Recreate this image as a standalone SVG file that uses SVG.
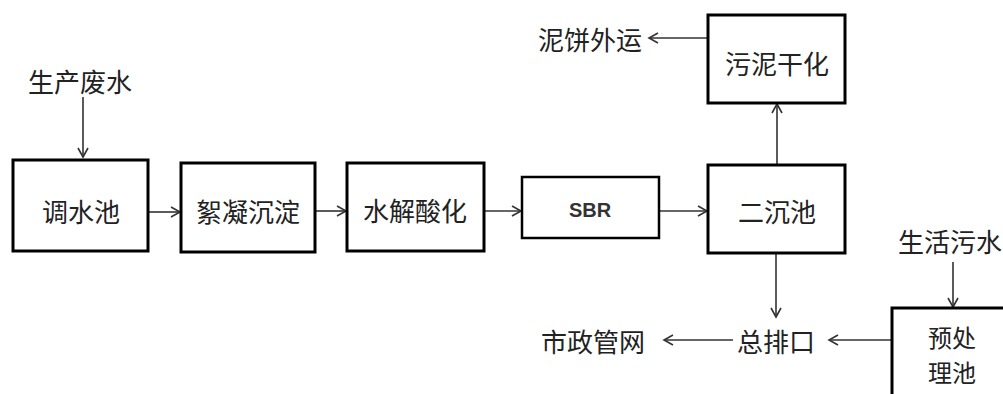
<svg xmlns="http://www.w3.org/2000/svg" width="1003" height="394" viewBox="0 0 1003 394">
<style>
.box{fill:#fff;stroke:#000;stroke-width:3}
.thin{stroke-width:2.5}
.t{font-family:"Noto Sans CJK SC","Noto Sans",sans-serif;font-size:26px;fill:#222;text-anchor:middle;dominant-baseline:central}
.p{font-size:24px}
.s{font-family:"Liberation Sans",Arial,sans-serif;font-size:20px;font-weight:bold;fill:#333;text-anchor:middle;dominant-baseline:central}
.c{stroke:#333;stroke-width:1.6;fill:none}
</style>
<defs>
<marker id="a" markerWidth="12" markerHeight="12" refX="10" refY="6" orient="auto" markerUnits="userSpaceOnUse">
<path d="M1,1 L10,6 L1,11" fill="none" stroke="#333" stroke-width="1.6"/>
</marker>
</defs>
<rect width="1003" height="394" fill="#fff"/>
<g id="connectors">
<line class="c" x1="83" y1="97" x2="83" y2="157" marker-end="url(#a)"/>
<line class="c" x1="148" y1="212" x2="180" y2="212" marker-end="url(#a)"/>
<line class="c" x1="315" y1="211" x2="346" y2="211" marker-end="url(#a)"/>
<line class="c" x1="484" y1="211" x2="521" y2="211" marker-end="url(#a)"/>
<line class="c" x1="659" y1="211" x2="707" y2="211" marker-end="url(#a)"/>
<line class="c" x1="777" y1="165" x2="777" y2="104" marker-end="url(#a)"/>
<line class="c" x1="708" y1="38" x2="649" y2="38" marker-end="url(#a)"/>
<line class="c" x1="776" y1="253" x2="776" y2="317" marker-end="url(#a)"/>
<line class="c" x1="733" y1="340" x2="664" y2="340" marker-end="url(#a)"/>
<line class="c" x1="892" y1="340" x2="829" y2="340" marker-end="url(#a)"/>
<line class="c" x1="953" y1="262" x2="953" y2="307" marker-end="url(#a)"/>
</g>
<g id="n-src"><text class="t" x="80" y="80">生产废水</text></g>
<g id="n1"><rect class="box" x="13" y="160" width="135" height="91"/><text class="t" x="81" y="210">调水池</text></g>
<g id="n2"><rect class="box" x="181" y="163" width="134" height="89"/><text class="t" x="248" y="210">絮凝沉淀</text></g>
<g id="n3"><rect class="box" x="347" y="163" width="137" height="88"/><text class="t" x="415" y="209">水解酸化</text></g>
<g id="n4"><rect class="box thin" x="522" y="177" width="137" height="61"/><text class="s" x="590" y="210">SBR</text></g>
<g id="n5"><rect class="box" x="708" y="165" width="137" height="88"/><text class="t" x="777" y="210">二沉池</text></g>
<g id="n6"><rect class="box" x="708" y="15" width="137" height="88"/><text class="t" x="777" y="62">污泥干化</text></g>
<g id="n-cake"><text class="t" x="590" y="38">泥饼外运</text></g>
<g id="n-out"><text class="t" x="776" y="340">总排口</text></g>
<g id="n-muni"><text class="t" x="593" y="340">市政管网</text></g>
<g id="n-dom"><text class="t" x="950" y="240">生活污水</text></g>
<g id="n7"><rect class="box" x="892" y="308" width="130" height="100"/><text class="t p" x="952" y="336">预处</text><text class="t p" x="952" y="371">理池</text></g>
</svg>
